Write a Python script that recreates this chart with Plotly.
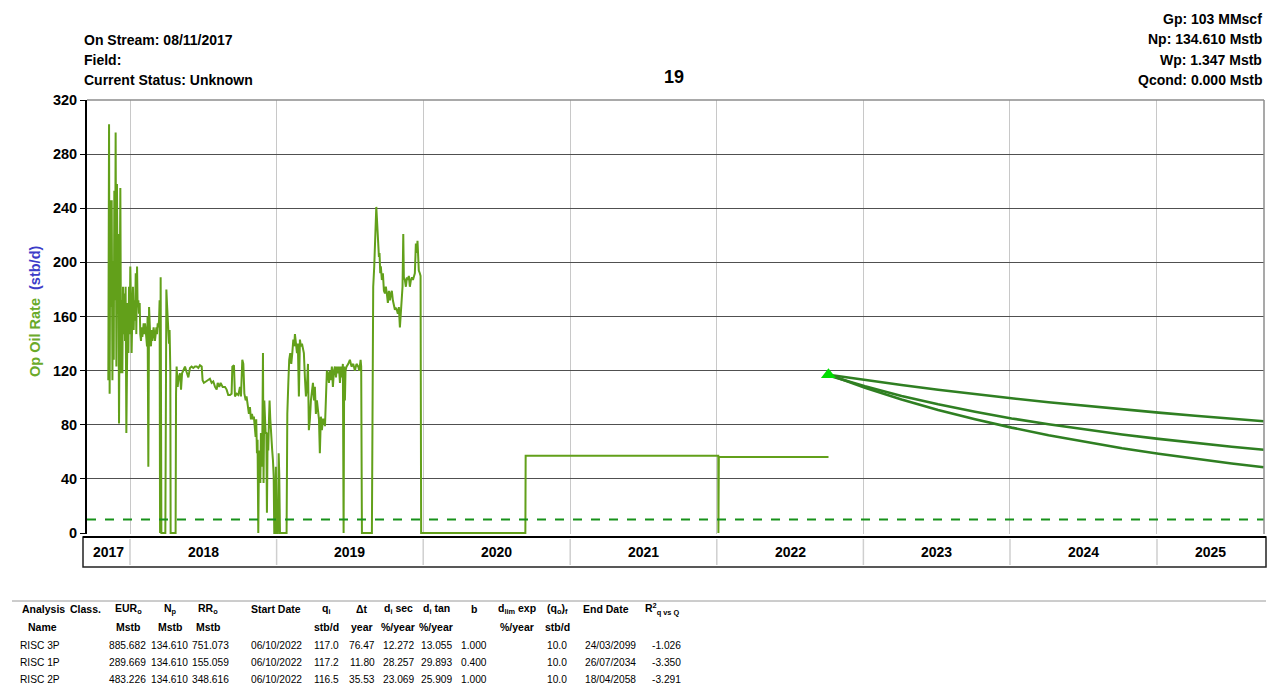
import plotly.graph_objects as go
from datetime import datetime

# ---------------- data ----------------
# historical oil rate (decimal year, stb/d)
hist_t = [
    2017.852, 2017.857, 2017.861, 2017.866, 2017.870, 2017.875, 2017.880, 2017.884, 2017.889, 2017.893,
    2017.898, 2017.902, 2017.907, 2017.911, 2017.916, 2017.920, 2017.925, 2017.930, 2017.934, 2017.939,
    2017.943, 2017.948, 2017.952, 2017.957, 2017.961, 2017.966, 2017.970, 2017.975, 2017.980, 2017.984,
    2017.989, 2017.993, 2017.998, 2018.002, 2018.007, 2018.011, 2018.016, 2018.020, 2018.025, 2018.029,
    2018.034, 2018.039, 2018.043, 2018.048, 2018.052, 2018.057, 2018.061, 2018.066, 2018.070, 2018.075,
    2018.079, 2018.084, 2018.089, 2018.093, 2018.098, 2018.102, 2018.107, 2018.111, 2018.116, 2018.120,
    2018.125, 2018.130, 2018.134, 2018.139, 2018.143, 2018.148, 2018.152, 2018.157, 2018.161, 2018.166,
    2018.170, 2018.175, 2018.180, 2018.184, 2018.189, 2018.193, 2018.198, 2018.202,
    2018.205, 2018.209, 2018.214, 2018.241, 2018.243, 2018.248, 2018.252, 2018.257, 2018.261, 2018.266, 2018.270, 2018.275, 2018.277, 2018.311,
    2018.314, 2018.318, 2018.325, 2018.332, 2018.341, 2018.348, 2018.355, 2018.364, 2018.375, 2018.386, 2018.398, 2018.409, 2018.420, 2018.432, 2018.443, 2018.455, 2018.466, 2018.477, 2018.489,
    2018.495, 2018.504, 2018.518, 2018.534, 2018.545, 2018.557, 2018.568, 2018.580, 2018.591, 2018.598, 2018.609, 2018.618, 2018.632, 2018.648, 2018.659, 2018.670, 2018.682, 2018.693,
    2018.698, 2018.709, 2018.716, 2018.727, 2018.739, 2018.750, 2018.757, 2018.766, 2018.773, 2018.780, 2018.789, 2018.795, 2018.802, 2018.811, 2018.818, 2018.825, 2018.832, 2018.839, 2018.845,
    2018.852, 2018.857, 2018.861, 2018.866, 2018.870, 2018.875, 2018.880, 2018.884, 2018.889, 2018.893, 2018.898, 2018.902, 2018.907, 2018.911, 2018.916, 2018.920, 2018.925, 2018.930, 2018.934, 2018.939,
    2018.943, 2018.948, 2018.952, 2018.957, 2018.961, 2018.966, 2018.970, 2018.975, 2018.980, 2018.984, 2018.991, 2018.995, 2019.000, 2019.009, 2019.014, 2019.018, 2019.023, 2019.068,
    2019.073, 2019.080, 2019.086, 2019.093, 2019.100, 2019.107, 2019.114, 2019.120, 2019.125, 2019.132, 2019.139, 2019.145, 2019.152, 2019.159, 2019.166, 2019.173, 2019.180, 2019.186, 2019.193, 2019.200,
    2019.207, 2019.214, 2019.220, 2019.227, 2019.234, 2019.241, 2019.248, 2019.255, 2019.261, 2019.268, 2019.275, 2019.282, 2019.289, 2019.295, 2019.302, 2019.309, 2019.316, 2019.323, 2019.330, 2019.336,
    2019.343, 2019.350, 2019.357, 2019.364, 2019.370, 2019.377, 2019.384, 2019.391, 2019.398, 2019.405, 2019.411, 2019.418, 2019.425, 2019.432, 2019.439, 2019.445, 2019.452, 2019.457, 2019.461, 2019.466,
    2019.470, 2019.477, 2019.489, 2019.500, 2019.511, 2019.523, 2019.534, 2019.545, 2019.557, 2019.564, 2019.573, 2019.577, 2019.582, 2019.650,
    2019.655, 2019.659, 2019.666, 2019.670, 2019.675, 2019.680, 2019.684, 2019.689, 2019.693, 2019.698, 2019.702, 2019.707, 2019.711, 2019.718, 2019.725, 2019.732, 2019.739, 2019.745, 2019.752, 2019.759,
    2019.766, 2019.773, 2019.780, 2019.786, 2019.793, 2019.800, 2019.807, 2019.814, 2019.820, 2019.827, 2019.834, 2019.841, 2019.848, 2019.855, 2019.859, 2019.864, 2019.868, 2019.875, 2019.882, 2019.889,
    2019.895, 2019.902, 2019.909, 2019.916, 2019.923, 2019.930, 2019.936, 2019.943, 2019.950, 2019.957, 2019.961, 2019.966, 2019.970, 2019.977, 2019.982, 2019.986,
    2020.695, 2020.697, 2022.010, 2022.011, 2022.014, 2022.762,
]
hist_q = [
    113, 302, 103, 246, 167, 246, 113, 201, 128, 253,
    172, 296, 123, 258, 162, 221, 81, 221, 255, 118,
    172, 118, 182, 147, 177, 142, 182, 74, 147, 170,
    133, 182, 147, 197, 167, 133, 162, 182, 150, 172,
    157, 192, 147, 197, 167, 172, 162, 170, 147, 142,
    152, 145, 150, 155, 147, 155, 150, 145, 138, 160,
    49, 167, 152, 142, 138, 150, 142, 147, 152, 147,
    142, 147, 152, 147, 155, 152, 157, 172,
    0, 189, 0, 0, 150, 180, 170, 160, 155, 140, 150, 120, 0, 0,
    103, 123, 108, 115, 118, 106, 118, 120, 123, 119, 115, 122, 123, 122, 123, 123, 122, 124, 123,
    113, 111, 112, 113, 114, 111, 112, 108, 106, 111, 108, 111, 108, 108, 106, 102, 102, 103,
    123, 124, 101, 103, 102, 108, 101, 128, 125, 103, 98, 101, 93, 88, 93, 84, 88, 84, 86,
    76, 71, 84, 59, 69, 0, 61, 57, 37, 74, 49, 61, 133, 37, 98, 79, 74, 74, 15, 74,
    61, 84, 98, 84, 74, 64, 61, 54, 42, 0, 0, 49, 0, 0, 59, 44, 0, 0,
    88, 111, 128, 133, 125, 133, 143, 138, 147, 140, 133, 140, 101, 143, 138, 140, 135, 133, 115, 101,
    108, 125, 76, 84, 98, 108, 111, 98, 108, 88, 98, 91, 84, 59, 86, 76, 84, 84, 79, 98,
    120, 118, 111, 120, 113, 123, 108, 120, 123, 115, 123, 118, 123, 111, 123, 115, 125, 0, 123, 98,
    120, 123, 125, 128, 123, 125, 120, 125, 123, 120, 128, 123, 0, 0,
    105, 182, 197, 216, 238, 241, 233, 221, 216, 204, 207, 192, 197, 187, 192, 179, 177, 182, 177, 170,
    179, 172, 177, 179, 172, 167, 165, 166, 165, 162, 167, 152, 165, 170, 182, 221, 189, 187, 182, 189,
    187, 190, 182, 187, 189, 187, 189, 192, 214, 207, 216, 204, 194, 192, 190, 0,
    0, 57.2, 57.2, 0, 56.2, 56.2,
]
assert len(hist_t) == len(hist_q)

# forecast (start 06/10/2022)
fc_dates = ["2022-10-06", "2023-01-05", "2023-04-06", "2023-07-06", "2023-10-06", "2024-01-05",
            "2024-04-06", "2024-07-06", "2024-10-06", "2025-01-05", "2025-04-06", "2025-07-06", "2025-09-24"]
fc_3p = [117.0, 113.0, 109.4, 105.9, 102.6, 99.6, 96.7, 94.0, 91.4, 89.0, 86.7, 84.5, 82.6]
fc_2p = [116.5, 108.4, 101.3, 95.1, 89.6, 84.7, 80.4, 76.4, 72.8, 69.6, 66.6, 63.8, 61.6]
fc_1p = [117.2, 107.4, 98.7, 91.0, 84.1, 77.9, 72.3, 67.3, 62.7, 58.6, 54.8, 51.4, 48.6]
start_point_date = ["2022-10-06"]
start_point_q = [117.0]
q_limit = 10.0

years = [2017, 2018, 2019, 2020, 2021, 2022, 2023, 2024, 2025]
y_ticks = [0, 40, 80, 120, 160, 200, 240, 280, 320]

header_left = ["On Stream: 08/11/2017", "Field:", "Current Status: Unknown"]
header_right = ["Gp: 103 MMscf", "Np: 134.610 Mstb", "Wp: 1.347 Mstb", "Qcond: 0.000 Mstb"]
title_text = "19"

table_head1 = ["EUR<sub>o</sub>", "N<sub>p</sub>", "RR<sub>o</sub>", "Start Date", "q<sub>i</sub>", "Δt",
               "d<sub>i</sub> sec", "d<sub>i</sub> tan", "b", "d<sub>lim</sub> exp", "(q<sub>o</sub>)<sub>f</sub>",
               "End Date", "R<sup>2</sup><sub>q vs Q</sub>"]
table_head2 = ["Mstb", "Mstb", "Mstb", "", "stb/d", "year", "%/year", "%/year", "", "%/year", "stb/d", "", ""]
table_names = ["RISC 3P", "RISC 1P", "RISC 2P"]
table_rows = [
    ["885.682", "134.610", "751.073", "06/10/2022", "117.0", "76.47", "12.272", "13.055", "1.000", "", "10.0", "24/03/2099", "-1.026"],
    ["289.669", "134.610", "155.059", "06/10/2022", "117.2", "11.80", "28.257", "29.893", "0.400", "", "10.0", "26/07/2034", "-3.350"],
    ["483.226", "134.610", "348.616", "06/10/2022", "116.5", "35.53", "23.069", "25.909", "1.000", "", "10.0", "18/04/2058", "-3.291"],
]

# ---------------- helpers ----------------
W, H = 1274, 686
L, R, T, B = 87, 1264, 100, 534
FONT = "Liberation Sans, Arial, sans-serif"


def yr_to_date(y):
    yr = int(y)
    s = datetime(yr, 1, 1)
    e = datetime(yr + 1, 1, 1)
    return s + (e - s) * (y - yr)


def px(x):
    return (x - L) / (R - L)


def py(y):
    return (B - y) / (B - T)


x_start = yr_to_date(2017.7066)
x_end = yr_to_date(2025.730)

fig = go.Figure()

# historical
fig.add_trace(go.Scatter(x=[yr_to_date(t) for t in hist_t], y=hist_q, mode="lines",
                         line=dict(color="#62a01a", width=2), hoverinfo="skip"))
# forecasts
for ser in (fc_3p, fc_2p, fc_1p):
    fig.add_trace(go.Scatter(x=fc_dates, y=ser, mode="lines",
                             line=dict(color="#2f7f22", width=2.6), hoverinfo="skip"))
# start marker
fig.add_trace(go.Scatter(x=start_point_date, y=start_point_q, mode="markers",
                         marker=dict(symbol="triangle-up", size=13, color="#00dd00"), hoverinfo="skip"))
# economic limit
fig.add_trace(go.Scatter(x=[x_start, x_end], y=[q_limit, q_limit], mode="lines",
                         line=dict(color="#17911a", width=1.8, dash="dash"), hoverinfo="skip"))

shapes = []
# plot frame (top/right)
shapes.append(dict(type="line", xref="paper", yref="paper", x0=0, x1=1, y0=1, y1=1,
                   line=dict(color="#8c8c8c", width=1.5)))
shapes.append(dict(type="line", xref="paper", yref="paper", x0=1, x1=1, y0=0, y1=1,
                   line=dict(color="#8c8c8c", width=1.5)))
# year band
band_top, band_bot = 537, 567
shapes.append(dict(type="rect", xref="paper", yref="paper", x0=px(83), x1=px(1266),
                   y0=py(band_bot), y1=py(band_top), line=dict(color="#222222", width=1.5)))
shapes.append(dict(type="line", xref="paper", yref="paper", x0=px(83), x1=px(1266),
                   y0=py(band_top), y1=py(band_top), line=dict(color="black", width=2)))
for yv in years[1:]:
    shapes.append(dict(type="line", xref="x", yref="paper", x0=datetime(yv, 1, 1), x1=datetime(yv, 1, 1),
                       y0=py(band_bot - 2), y1=py(band_top + 2), line=dict(color="#cfcfcf", width=1.5)))
# table separator line
shapes.append(dict(type="line", xref="paper", yref="paper", x0=px(12), x1=px(1266),
                   y0=py(601), y1=py(601), line=dict(color="#9a9a9a", width=1)))

ann = []


def add_text(text, x, y, size=13, bold=True, xanchor="left", color="black"):
    ann.append(dict(text=text, xref="paper", yref="paper",
                    x=px(x), y=py(y), xanchor=xanchor, yanchor="middle", showarrow=False,
                    font=dict(family=FONT, size=size, color=color, weight="bold" if bold else "normal")))


for i, s in enumerate(header_left):
    add_text(s, 82, 40 + i * 20, size=14)
for i, s in enumerate(header_right):
    add_text(s, 1264, 19 + i * 20.3, size=14, xanchor="right")
add_text(title_text, 674, 77, size=18, xanchor="center")

# y-axis title
ann.append(dict(text="<span style='color:#6aaa2a'>Op Oil Rate</span>  <span style='color:#3c3cc8'>(stb/d)</span>",
                xref="paper", yref="paper", x=px(35), y=py(312), textangle=-90, showarrow=False,
                xanchor="center", yanchor="middle", font=dict(family=FONT, size=14.5, weight="bold")))

# year labels in band
for yv in years:
    a = max(datetime(yv, 1, 1), x_start)
    b = min(datetime(yv + 1, 1, 1), x_end)
    c = a + (b - a) / 2
    ann.append(dict(text=str(yv), xref="x", yref="paper", x=c, y=py(552), showarrow=False,
                    xanchor="center", yanchor="middle",
                    font=dict(family=FONT, size=14, color="black", weight="bold")))

# table
col_x = [128, 170, 208, 276, 326, 362, 398, 436, 474, 517, 557, 606, 662]
data_x = [127, 169, 210, 276, 326, 362, 398, 436, 474, 517, 557, 610, 666]
TS = 10.5
DS = 10.2
add_text("Analysis", 20, 609, size=TS)
add_text("Class.", 68, 609, size=TS)
add_text("Name", 42, 627, size=TS, xanchor="center")
for i, h in enumerate(table_head1):
    add_text(h, col_x[i], 609, size=TS, xanchor="center")
for i, h in enumerate(table_head2):
    if h:
        add_text(h, col_x[i], 627, size=TS, xanchor="center")
for r, (nm, row) in enumerate(zip(table_names, table_rows)):
    yy = 645 + r * 17
    add_text(nm, 18, yy, size=DS, bold=False)
    for i, v in enumerate(row):
        if v:
            add_text(v, data_x[i], yy, size=DS, bold=False, xanchor="center")

fig.update_layout(
    width=W, height=H,
    margin=dict(l=L, r=W - R, t=T, b=H - B),
    paper_bgcolor="white", plot_bgcolor="white",
    showlegend=False,
    xaxis=dict(type="date", range=[x_start, x_end],
               tickvals=[datetime(yv, 1, 1) for yv in years[1:]],
               showticklabels=False, ticks="", showgrid=True, gridcolor="#c8c8c8", gridwidth=1.2,
               zeroline=False, showline=False),
    yaxis=dict(range=[-0.7, 320], tickvals=y_ticks, ticktext=[str(v) for v in y_ticks],
               showgrid=True, gridcolor="#505050", gridwidth=1.3,
               ticks="outside", ticklen=5, tickcolor="black", tickwidth=1.3,
               tickfont=dict(family=FONT, size=14.5, color="black", weight="bold"),
               showline=True, linecolor="black", linewidth=2, zeroline=False),
    shapes=shapes,
    annotations=ann,
)

fig.write_html("out.html", config={"displayModeBar": False},
               post_script="document.body.style.margin='0px';document.body.style.overflow='hidden';")
